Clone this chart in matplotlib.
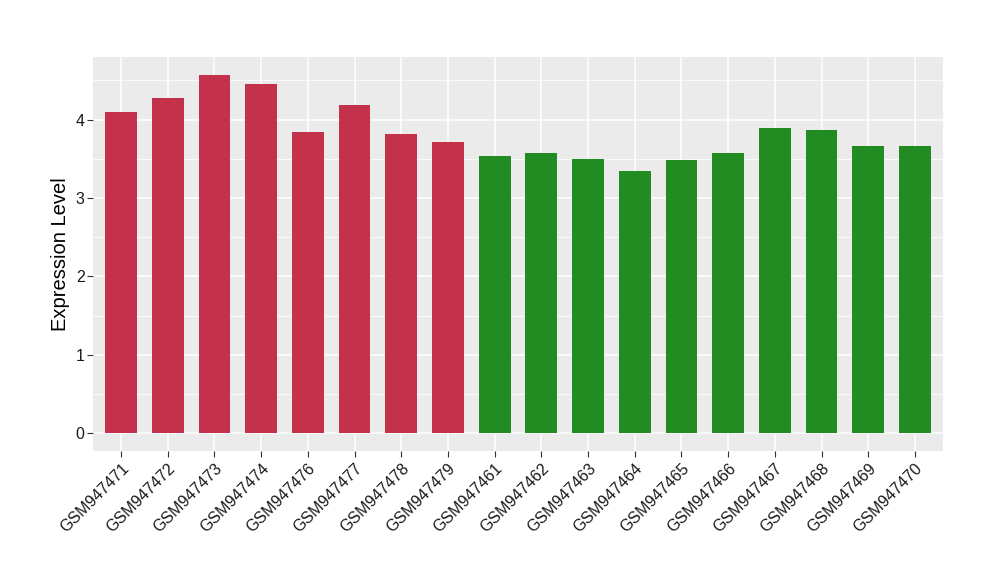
import numpy as np
import matplotlib
matplotlib.use("Agg")
import matplotlib.pyplot as plt

plt.rcParams['font.family'] = ['Liberation Sans', 'DejaVu Sans']

# samples and expression values
samples = ["GSM947471", "GSM947472", "GSM947473", "GSM947474", "GSM947476",
           "GSM947477", "GSM947478", "GSM947479", "GSM947461", "GSM947462",
           "GSM947463", "GSM947464", "GSM947465", "GSM947466", "GSM947467",
           "GSM947468", "GSM947469", "GSM947470"]
values = [4.10, 4.27, 4.57, 4.46, 3.84, 4.19, 3.81, 3.71, 3.54, 3.58,
          3.50, 3.34, 3.49, 3.57, 3.89, 3.87, 3.66, 3.66]
groups = ["a"] * 8 + ["b"] * 10
group_colors = {"a": "#C3314A", "b": "#228B22"}

fig = plt.figure(figsize=(10, 5.8), dpi=100)
ax = fig.add_axes([0.093, 1 - 451/580, 0.850, (451 - 57)/580])
ax.set_facecolor("#EBEBEB")

x = np.arange(len(samples))
ax.bar(x, values, width=0.68, color=[group_colors[g] for g in groups], zorder=3)

ax.set_xlim(-0.6, len(samples) - 0.4)
ymax = max(values)
ax.set_ylim(-0.05 * ymax, ymax * 1.05)

ax.set_yticks([0, 1, 2, 3, 4])
ax.set_yticks([0.5, 1.5, 2.5, 3.5, 4.5], minor=True)
ax.set_xticks(x)
ax.set_xticklabels(samples, rotation=45, ha="right", rotation_mode="anchor", fontsize=11.5)
ax.tick_params(axis="y", labelsize=11.5, pad=2)
ax.tick_params(axis="x", pad=3)
ax.tick_params(which="major", length=4, color="#333333", labelcolor="#1A1A1A", width=0.8)
ax.tick_params(which="minor", length=0)

ax.grid(which="major", color="white", linewidth=1.1, zorder=0)
ax.grid(which="minor", axis="y", color="white", linewidth=0.55, zorder=0)
ax.set_axisbelow(True)
for s in ax.spines.values():
    s.set_visible(False)

ax.set_ylabel("Expression Level", fontsize=14.5, labelpad=4)

fig.savefig("out.png", dpi=100)
